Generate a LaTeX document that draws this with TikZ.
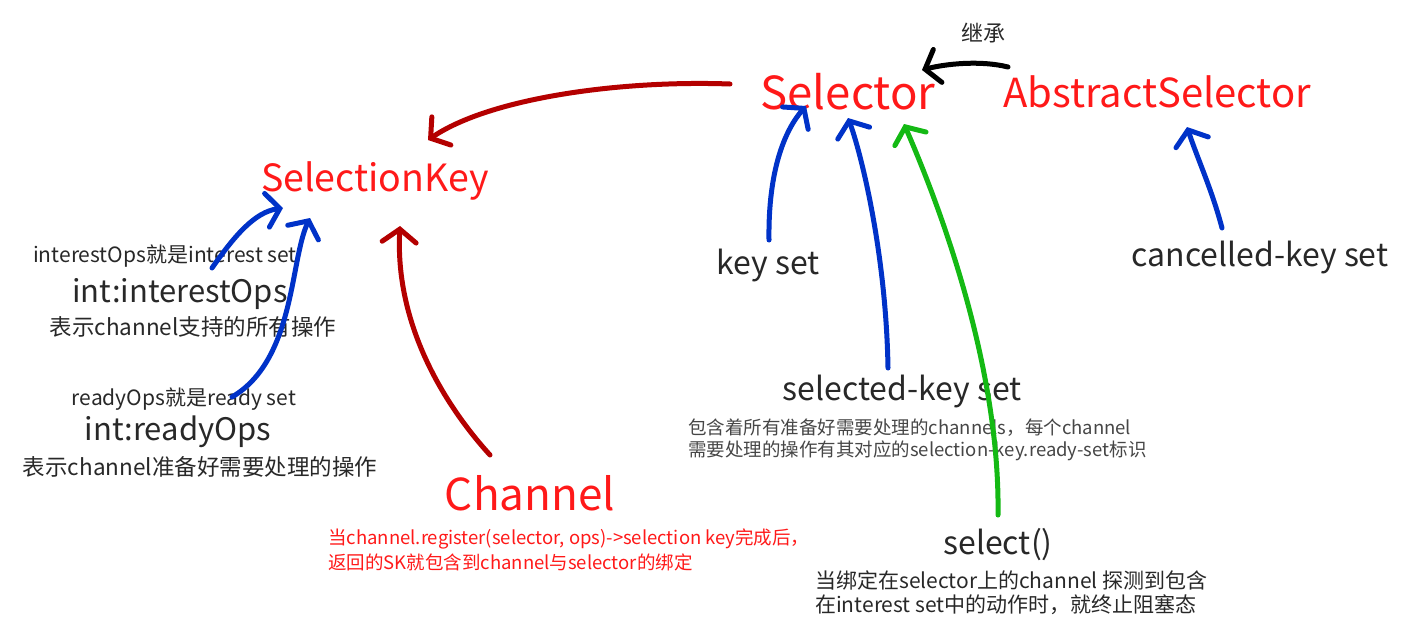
\documentclass[tikz,border=0pt]{standalone}
\usepackage{fontspec}
\setmainfont{Noto Sans CJK SC}
\usetikzlibrary{arrows.meta}
\definecolor{tred}{RGB}{255,25,25}
\definecolor{dred}{RGB}{180,0,0}
\definecolor{hblue}{RGB}{0,50,200}
\definecolor{hgreen}{RGB}{20,185,20}
\definecolor{tdark}{RGB}{40,40,40}
\definecolor{tgray}{RGB}{70,70,70}
\tikzset{
  lbl/.style={inner sep=0pt, text=tdark},
  big/.style={lbl, text=tred},
  pen/.style={line width=5pt, line cap=round, line join=round,
     -{Straight Barb[length=13pt,width=34pt,line cap=round]}},
}
\newcommand{\fs}[1]{\fontsize{#1}{#1}\selectfont}
\begin{document}
\begin{tikzpicture}[x=1pt,y=-1pt]
\useasboundingbox (0,0) rectangle (1402,643);
% main labels
\node[big, font=\fs{45.5}] (sel) at (848,92) {Selector};
\node[big, font=\fs{40}] (asel) at (1157,92) {AbstractSelector};
\node[big, font=\fs{37.5}] (sk) at (375,181) {SelectionKey};
\node[big, font=\fs{44}] (ch) at (530,493) {Channel};
\node[lbl, font=\fs{22}] (jc) at (983,33) {继承};
\node[lbl, font=\fs{32}] (ks) at (768,266) {key set};
\node[lbl, font=\fs{32}] (cks) at (1260,258) {cancelled-key set};
\node[lbl, font=\fs{32}] (sks) at (902,392) {selected-key set};
\node[lbl, font=\fs{32}] (selc) at (998,545) {select()};
% left texts
\node[lbl, font=\fs{21}] (io1) at (165,256) {interestOps就是interest set};
\node[lbl, font=\fs{31}] (io2) at (180,294) {int:interestOps};
\node[lbl, font=\fs{22.5}] (io3) at (193,327) {表示channel支持的所有操作};
\node[lbl, font=\fs{21}] (ro1) at (184,399) {readyOps就是ready set};
\node[lbl, font=\fs{31}] (ro2) at (178,432) {int:readyOps};
\node[lbl, font=\fs{22.5}] (ro3) at (200,467) {表示channel准备好需要处理的操作};
% small texts
\node[lbl, text=tgray, font=\fs{18.5}, anchor=west] (sd1) at (688,428) {包含着所有准备好需要处理的channels，每个channel};
\node[lbl, text=tgray, font=\fs{18.5}, anchor=west] (sd2) at (688,451) {需要处理的操作有其对应的selection-key.ready-set标识};
\node[lbl, text=tred, font=\fs{18.5}, anchor=west] (cd1) at (328,539) {当channel.register(selector, ops)->selection key完成后，};
\node[lbl, text=tred, font=\fs{18.5}, anchor=west] (cd2) at (328,562) {返回的SK就包含到channel与selector的绑定};
\node[lbl, font=\fs{21}, anchor=west] (xd1) at (815,580) {当绑定在selector上的channel 探测到包含};
\node[lbl, font=\fs{21}, anchor=west] (xd2) at (815,605) {在interest set中的动作时，就终止阻塞态};
% arrow end points
\coordinate (a1s) at (730,84);   \coordinate (a1e) at (428,140);
\coordinate (a2s) at (490,455);  \coordinate (a2e) at (400,226);
\coordinate (a3s) at (212,268);  \coordinate (a3e) at (283,208);
\coordinate (a4s) at (232,397);  \coordinate (a4e) at (310,218);
\coordinate (a5s) at (769,240);  \coordinate (a5e) at (806,106);
\coordinate (a6s) at (888,368);  \coordinate (a6e) at (848,118);
\coordinate (a7s) at (998,515);  \coordinate (a7e) at (904,124);
\coordinate (a8s) at (1222,228); \coordinate (a8e) at (1187,127);
\coordinate (a9s) at (1008,67);  \coordinate (a9e) at (922,70);
% arrows
\draw[pen, dred] (a1s) .. controls (620,80) and (490,98) .. (a1e);
\draw[pen, dred] (a2s) .. controls (440,400) and (395,320) .. (a2e);
\draw[pen, hblue] (a3s) .. controls (235,235) and (255,212) .. (a3e);
\draw[pen, hblue] (a4s) .. controls (295,360) and (290,260) .. (a4e);
\draw[pen, hblue] (a5s) .. controls (768,170) and (785,130) .. (a5e);
\draw[pen, hblue] (a6s) .. controls (886,250) and (860,150) .. (a6e);
\draw[pen, hgreen] (a7s) .. controls (1000,380) and (950,230) .. (a7e);
\draw[pen, hblue] (a8s) .. controls (1212,190) and (1198,160) .. (a8e);
\draw[pen, black] (a9s) .. controls (980,60) and (945,64) .. (a9e);
\end{tikzpicture}
\end{document}
